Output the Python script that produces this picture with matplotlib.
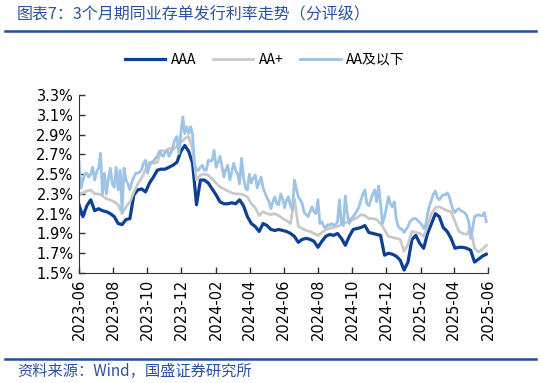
import pandas as pd
import matplotlib
matplotlib.use("Agg")
import matplotlib.pyplot as plt
import matplotlib.dates as mdates
from matplotlib.lines import Line2D

plt.rcParams['font.family'] = ['Noto Sans CJK SC', 'DejaVu Sans']

# weekly observations for AAA / AA+, twice-weekly for AA and below
dates_w = pd.date_range("2023-06-01", periods=105, freq="7D")
dates_h = pd.date_range("2023-06-01", periods=209, freq="84h")

aaa = [2.19, 2.07, 2.18, 2.24, 2.13, 2.15, 2.13, 2.12, 2.10, 2.07, 2.00, 1.99, 2.04, 2.05,
       2.29, 2.34, 2.35, 2.32, 2.41, 2.47, 2.54, 2.55, 2.55, 2.57, 2.59, 2.62, 2.73, 2.79,
       2.73, 2.61, 2.19, 2.44, 2.44, 2.41, 2.35, 2.29, 2.22, 2.20, 2.20, 2.21, 2.20, 2.24,
       2.18, 2.07, 2.00, 1.97, 1.92, 2.00, 1.98, 1.94, 1.93, 1.94,
       1.93, 1.92, 1.90, 1.87, 1.81, 1.84, 1.85, 1.84, 1.82, 1.76, 1.82, 1.87, 1.89, 1.88,
       1.90, 1.85, 1.78, 1.87, 1.94, 1.95, 1.96, 1.98, 1.91, 1.90, 1.89, 1.88, 1.68, 1.70,
       1.69, 1.67, 1.63, 1.53, 1.61, 1.84, 1.88, 1.80, 1.75, 1.90, 2.00, 2.10, 2.07, 1.96,
       1.92, 1.85, 1.75, 1.76, 1.76, 1.75, 1.73, 1.61, 1.64, 1.67, 1.69]

aa_plus = [2.30, 2.31, 2.33, 2.34, 2.30, 2.30, 2.28, 2.25, 2.24, 2.22, 2.19, 2.10, 2.17, 2.22,
           2.32, 2.40, 2.46, 2.55, 2.62, 2.61, 2.62, 2.74, 2.73, 2.76, 2.75, 2.78, 2.82, 2.86,
           2.88, 2.75, 2.44, 2.49, 2.50, 2.49, 2.45, 2.41, 2.37, 2.35, 2.33, 2.31, 2.30, 2.30,
           2.29, 2.27, 2.20, 2.16, 2.08, 2.12, 2.10, 2.09, 2.10, 2.08,
           2.05, 2.03, 2.00, 2.25, 1.97, 1.95, 1.93, 1.92, 1.90, 1.88, 1.91, 1.94, 1.95, 1.96,
           1.97, 1.99, 2.01, 2.02, 2.04, 2.06, 2.09, 2.08, 2.05, 2.05, 2.04, 2.00, 1.94, 1.87,
           1.86, 1.85, 1.84, 1.72, 1.79, 1.92, 1.91, 1.90, 1.87, 1.98, 2.10, 2.16, 2.17, 2.15,
           2.13, 2.12, 2.02, 1.92, 1.90, 1.89, 1.95, 1.75, 1.71, 1.74, 1.78]

aa_below = [2.63, 2.36, 2.44, 2.50, 2.51, 2.47, 2.50, 2.57, 2.44, 2.52, 2.56, 2.71, 2.30, 2.51,
            2.30, 2.45, 2.56, 2.40, 2.37, 2.57, 2.34, 2.54, 2.12, 2.56, 2.44, 2.40, 2.34, 2.42,
            2.47, 2.51, 2.51, 2.52, 2.55, 2.61, 2.64, 2.51, 2.58, 2.62, 2.63, 2.66, 2.68, 2.73,
            2.70, 2.68, 2.72, 2.74, 2.68, 2.72, 2.78, 2.85, 2.88, 2.71, 2.91, 3.08, 2.91, 2.98,
            2.91, 2.98, 2.90, 2.60, 2.54, 2.54, 2.57, 2.59, 2.54, 2.54, 2.64, 2.63, 2.64, 2.74,
            2.57, 2.62, 2.68, 2.58, 2.47, 2.55, 2.59, 2.44, 2.52, 2.61, 2.54, 2.50, 2.40, 2.66,
            2.47, 2.36, 2.34, 2.50, 2.41, 2.46, 2.49, 2.36, 2.42, 2.47, 2.36, 2.31, 2.26, 2.22,
            2.15, 2.22, 2.27, 2.20, 2.19, 2.30, 2.25, 2.16, 2.24, 2.27, 2.18, 2.14, 2.44, 2.35,
            2.27, 2.24, 2.20, 2.11, 2.09, 2.07, 2.12, 2.17, 2.12,
            2.10, 2.24, 2.00, 2.02, 1.97, 1.96, 1.99, 1.98, 2.00, 1.98, 1.99, 2.02, 2.24, 2.00,
            1.98, 2.28, 2.10, 2.00, 2.05, 2.07, 2.10, 2.13, 2.17, 2.24, 2.30, 2.34, 2.20, 2.18,
            2.24, 2.30, 2.34, 2.22, 2.38, 2.20, 2.00, 2.07, 2.16, 2.27, 2.20, 2.17, 2.22, 2.05,
            1.97, 1.95, 1.94, 1.91, 1.94, 1.97, 2.02, 2.04, 2.05, 2.05, 2.03, 2.01, 1.99, 1.95,
            1.98, 2.10, 2.18, 2.24, 2.30, 2.33, 2.26, 2.24, 2.27, 2.29, 2.29, 2.31, 2.28, 2.20,
            2.14, 2.11, 2.14, 2.15, 2.13, 2.12, 2.11, 2.08, 2.02, 1.85, 1.95, 2.07, 2.08, 2.09,
            2.08, 2.08, 2.11, 2.02]

series_names = ["AAA", "AA+", "AA及以下"]
series_colors = ["#0D3F94", "#C9C9C9", "#9DC3E6"]
y_ticks = [1.5, 1.7, 1.9, 2.1, 2.3, 2.5, 2.7, 2.9, 3.1, 3.3]

blue = "#2A52A0"

fig = plt.figure(figsize=(5.4, 3.83), dpi=100)
ax = fig.add_axes([79 / 540, 1 - 273 / 383, 409 / 540, 178 / 383])

ax.plot(dates_w, aaa, color=series_colors[0], lw=2.3, label=series_names[0])
ax.plot(dates_w, aa_plus, color=series_colors[1], lw=2.0, label=series_names[1])
ax.plot(dates_h, aa_below, color=series_colors[2], lw=2.0, label=series_names[2])

ax.set_ylim(1.5, 3.3)
ax.set_yticks(y_ticks)
ax.set_yticklabels([f"{v:.1f}%" for v in y_ticks], family=['DejaVu Sans'], fontsize=10.5)
ax.set_xlim(pd.Timestamp("2023-06-01"), pd.Timestamp("2025-06-01"))
ax.xaxis.set_major_locator(mdates.MonthLocator(bymonth=[2, 4, 6, 8, 10, 12]))
ax.xaxis.set_major_formatter(mdates.DateFormatter("%Y-%m"))
for lbl in ax.get_xticklabels():
    lbl.set_rotation(90)
    lbl.set_fontsize(10.5)
    lbl.set_family(['DejaVu Sans'])
ax.tick_params(direction="in", length=4, width=1, color="#333333", pad=4)
for s in ["top", "right"]:
    ax.spines[s].set_visible(False)
for s in ["left", "bottom"]:
    ax.spines[s].set_color("#333333")

fig.legend(loc="center", bbox_to_anchor=(265 / 540, 1 - 60 / 383), ncol=3, frameon=False,
           fontsize=10, handlelength=2.9, columnspacing=1.2, handletextpad=0.4)

# title, rules and source note
fig.text(17 / 540, 1 - 14 / 383, "图表7：3个月期同业存单发行利率走势（分评级）", color=blue,
         fontsize=11.5, style="italic", va="center", ha="left")
fig.add_artist(Line2D([5 / 540, 536 / 540], [1 - 31 / 383] * 2, transform=fig.transFigure,
                      color="#1F4E9A", lw=1.8))
fig.add_artist(Line2D([5 / 540, 536 / 540], [1 - 359 / 383] * 2, transform=fig.transFigure,
                      color="#1F4E9A", lw=1.8))
fig.text(17 / 540, 1 - 371 / 383, "资料来源：Wind，国盛证券研究所", color=blue,
         fontsize=11, style="italic", va="center", ha="left")

fig.savefig("out.png", dpi=100)
